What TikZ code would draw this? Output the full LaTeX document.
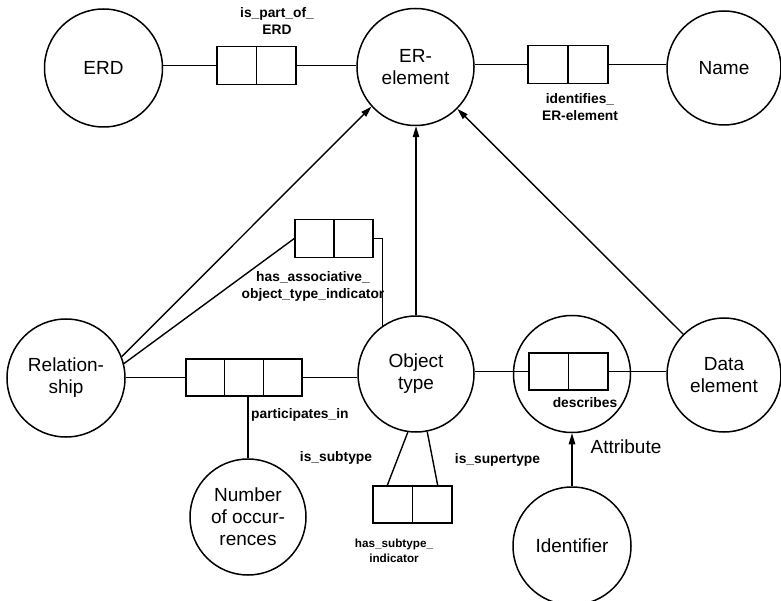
\documentclass[tikz,border=0pt]{standalone}
\usepackage{fontspec}
\setmainfont{Liberation Sans}
\usetikzlibrary{arrows.meta,calc}
\begin{document}
\begin{tikzpicture}[x=1pt,y=-1pt,
  entity/.style={circle,draw,line width=1.5pt,inner sep=0pt,minimum size=#1,
    align=center,font=\fontsize{19}{22}\selectfont},
  entity/.default=116pt,
  relbox/.style={rectangle,draw,line width=1.4pt,inner sep=0pt,
    minimum height=38pt,minimum width=#1},
  relbox/.default=79pt,
  lbl/.style={inner sep=0pt,align=center,font=\bfseries\fontsize{13.8}{17}\selectfont},
  smalllbl/.style={inner sep=0pt,align=center,font=\bfseries\fontsize{11.7}{15}\selectfont},
  biglbl/.style={inner sep=0pt,font=\fontsize{19}{22}\selectfont},
  link/.style={line width=1.4pt},
  isa/.style={link,-{Triangle[length=11pt,width=6.5pt]}}]

\useasboundingbox (0,0) rectangle (781,601);

% entity types
\node[entity=118pt] (erd)   at (103.5,68) {ERD};
\node[entity=117pt] (ere)   at (415.5,67) {ER-\\element};
\node[entity=114pt] (name)  at (724,68)   {Name};
\node[entity=118pt] (rel)   at (66,378)   {Relation-\\ship};
\node[entity=116pt] (obj)   at (416,374)  {Object\\type};
\node[entity=117pt] (attr)  at (572,374)  {};
\node[entity=114pt] (data)  at (724,375)  {Data\\element};
\node[entity=116pt] (num)   at (248,517)  {Number\\of occur-\\rences};
\node[entity=118pt] (ident) at (572,546)  {Identifier};

% relationship boxes
\node[relbox=79pt]  (partof)   at (256.5,65.5) {};
\node[relbox=80pt]  (identif)  at (568,64.5)   {};
\node[relbox=78pt]  (assoc)    at (334,238.5)  {};
\node[relbox=116pt,minimum height=37pt] (partic) at (244,377.5) {};
\node[relbox=79pt,minimum height=37pt]  (descr)  at (568.5,371.5) {};
\node[relbox=79pt,minimum height=37pt]  (subtp)  at (412.5,504.5) {};

% box dividers
\foreach \b in {partof,identif,assoc,descr,subtp}
  \draw[link] (\b.north) -- (\b.south);
\draw[link] ($(partic.north west)!1/3!(partic.north east)$) -- ($(partic.south west)!1/3!(partic.south east)$);
\draw[link] ($(partic.north west)!2/3!(partic.north east)$) -- ($(partic.south west)!2/3!(partic.south east)$);

% connectors
\draw[link] (partof.west) -- (partof.west -| erd.east);
\draw[link] (partof.east) -- (partof.east -| ere.west);
\draw[link] (identif.west) -- (identif.west -| ere.east);
\draw[link] (identif.east) -- (identif.east -| name.west);
\draw[link] (rel.14) -- (assoc.west);
\draw[link] (assoc.east) -| (obj.125);
\draw[link] (rel.east |- partic.west) -- (partic.west);
\draw[link] (partic.east) -- (partic.east -| obj.west);
\draw[link] (num.north) -- (num.north |- partic.south);
\draw[link] (descr.west) -- (descr.west -| obj.east);
\draw[link] (descr.east) -- (descr.east -| data.west);
\draw[link] (obj.262) -- ([xshift=15pt]subtp.north west);
\draw[link] (obj.281) -- ([xshift=-15pt]subtp.north east);

% generalisation arrows
\draw[isa] (rel.21) -- (ere.222);
\draw[isa] (obj.north) -- (obj.north |- ere.south);
\draw[isa] (data.135) -- (ere.-45);
\draw[isa] (ident.north) -- (ident.north |- attr.south);

% labels
\node[lbl] (lpartof) at (277,21.5) {is\_part\_of\_\\ERD};
\node[lbl] (lidentif) at (580,107) {identifies\_\\ER-element};
\node[lbl] (lassoc) at (313,286.5) {has\_associative\_\\object\_type\_indicator};
\node[lbl,anchor=west] (lpartic) at (251,415) {participates\_in};
\node[lbl] (ldescr) at (585,403) {describes};
\node[lbl] (lsub) at (336,458) {is\_subtype};
\node[lbl] (lsuper) at (497.5,460) {is\_supertype};
\node[smalllbl] (lsubtp) at (394,550.5) {has\_subtype\_\\indicator};
\node[biglbl] (lattr) at (626,447) {Attribute};

\end{tikzpicture}
\end{document}
